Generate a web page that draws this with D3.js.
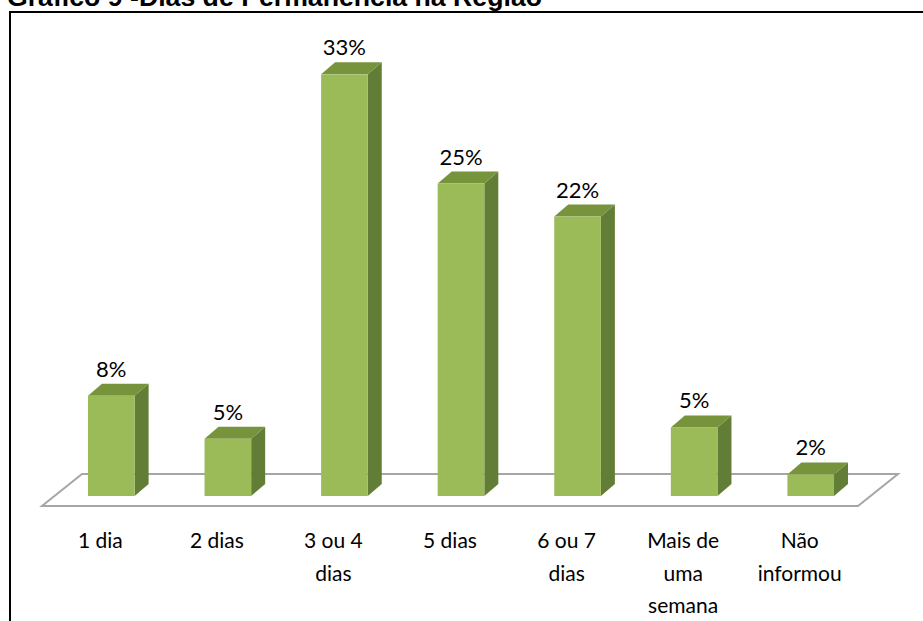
<!DOCTYPE html>
<html>
<head>
<meta charset="utf-8">
<script src="https://cdn.jsdelivr.net/npm/d3@7"></script>
<style>
  body { margin: 0; background: #fff; }
  svg { display: block; }
</style>
</head>
<body>
<div id="chart"></div>
<script>
// dados do gráfico
const categories = ["1 dia", "2 dias", "3 ou 4 dias", "5 dias", "6 ou 7 dias", "Mais de uma semana", "Não informou"];
const catLines = [["1 dia"], ["2 dias"], ["3 ou 4", "dias"], ["5 dias"], ["6 ou 7", "dias"], ["Mais de", "uma", "semana"], ["Não", "informou"]];
const values = [7.9, 4.5, 33.2, 24.6, 22.0, 5.4, 1.7];
const title = "Gráfico 9 -Dias de Permanência na Região";

const W = 923, H = 621;
const floorFront = 506, floorDx = 40, floorDy = -32;
const barDx = 14, barDy = -12;
const offX = 11, offY = -10;

const svg = d3.select("#chart").append("svg")
  .attr("width", W).attr("height", H);

// título (cortado no topo, como no original)
svg.append("text")
  .attr("x", 7).attr("y", 6)
  .attr("font-family", "Liberation Sans, Arial, sans-serif")
  .attr("font-weight", "bold")
  .attr("font-size", "25px")
  .attr("textLength", 535)
  .attr("lengthAdjust", "spacingAndGlyphs")
  .attr("fill", "#000")
  .text(title);

// moldura
svg.append("path")
  .attr("d", `M10,${H} L10,12 L${W},12`)
  .attr("fill", "none")
  .attr("stroke", "#000")
  .attr("stroke-width", 2);

const x = d3.scaleBand()
  .domain(categories)
  .range([42, 858])
  .paddingInner(0.6)
  .paddingOuter(0.3);

const y = d3.scaleLinear()
  .domain([0, 35])
  .range([floorFront + offY, floorFront + offY - 35 * 12.7]);

// piso 3D
const [fx0, fx1] = x.range();
svg.append("path")
  .attr("d", `M${fx0},${floorFront} L${fx1},${floorFront} L${fx1 + floorDx},${floorFront + floorDy} L${fx0 + floorDx},${floorFront + floorDy} Z`)
  .attr("fill", "#fff")
  .attr("stroke", "#a6a6a6")
  .attr("stroke-width", 2);

const bars = svg.selectAll(".bar")
  .data(values)
  .enter()
  .append("g")
  .attr("class", "bar");

const bw = x.bandwidth();
const bx = (d, i) => x(categories[i]) + offX;

// face lateral
bars.append("path")
  .attr("fill", "#627d35")
  .attr("d", (d, i) => {
    const x1 = bx(d, i) + bw, yt = y(d), yb = y(0);
    return `M${x1},${yb} L${x1},${yt} L${x1 + barDx},${yt + barDy} L${x1 + barDx},${yb + barDy} Z`;
  });

// face superior
bars.append("path")
  .attr("fill", "#77933c")
  .attr("d", (d, i) => {
    const x0 = bx(d, i), yt = y(d);
    return `M${x0},${yt} L${x0 + bw},${yt} L${x0 + bw + barDx},${yt + barDy} L${x0 + barDx},${yt + barDy} Z`;
  });

// face frontal
bars.append("rect")
  .attr("fill", "#9bbb59")
  .attr("x", (d, i) => bx(d, i))
  .attr("y", (d) => y(d))
  .attr("width", bw)
  .attr("height", (d) => y(0) - y(d));

// rótulos de valor
bars.append("text")
  .attr("x", (d, i) => bx(d, i) + bw / 2)
  .attr("y", (d) => y(d) + barDy - 7)
  .attr("text-anchor", "middle")
  .attr("font-family", "Lato, sans-serif")
  .attr("font-size", "22px")
  .attr("fill", "#000")
  .text((d) => d3.format(".0f")(d) + "%");

// rótulos das categorias
const labels = svg.selectAll(".cat")
  .data(catLines)
  .enter()
  .append("text")
  .attr("class", "cat")
  .attr("text-anchor", "middle")
  .attr("font-family", "Lato, sans-serif")
  .attr("font-size", "21px")
  .attr("fill", "#000");

labels.selectAll("tspan")
  .data((d, i) => d.map((t) => ({ t, i })))
  .enter()
  .append("tspan")
  .attr("x", (d) => x(categories[d.i]) + bw / 2)
  .attr("y", (d, j) => 548 + j * 32.5)
  .text((d) => d.t);
</script>
</body>
</html>
